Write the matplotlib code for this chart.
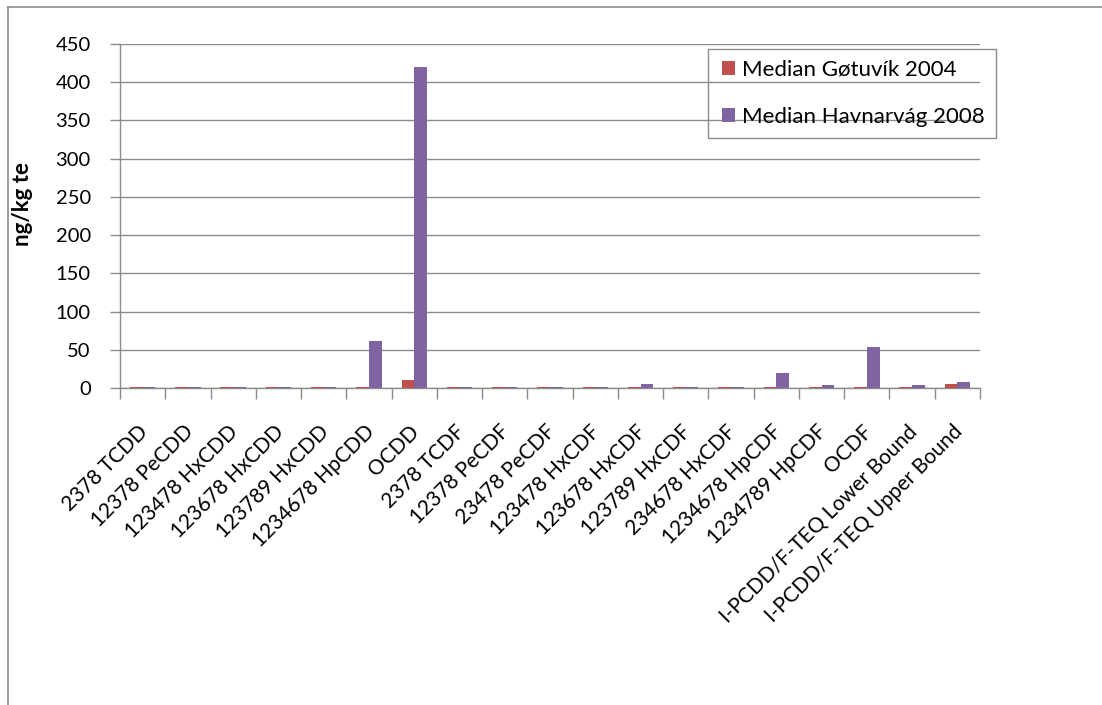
import matplotlib
matplotlib.use("Agg")
import matplotlib.pyplot as plt
import numpy as np
from matplotlib.lines import Line2D
from matplotlib.patches import Rectangle
import matplotlib.transforms as mtransforms

categories = ["2378 TCDD", "12378 PeCDD", "123478 HxCDD", "123678 HxCDD",
              "123789 HxCDD", "1234678 HpCDD", "OCDD", "2378 TCDF",
              "12378 PeCDF", "23478 PeCDF", "123478 HxCDF", "123678 HxCDF",
              "123789 HxCDF", "234678 HxCDF", "1234678 HpCDF", "1234789 HpCDF",
              "OCDF", "I-PCDD/F-TEQ Lower Bound", "I-PCDD/F-TEQ Upper Bound"]
gotuvik_2004 = [1, 1, 1, 1, 1, 1, 10.5, 1, 1, 1, 1, 1, 1, 1, 1, 1, 1, 1, 5]
havnarvag_2008 = [1, 1, 1, 1, 1, 62, 420, 1, 1, 1, 1, 5, 1, 1, 20, 3.5, 54, 3.5, 8]
series_names = ["Median Gøtuvík 2004", "Median Havnarvág 2008"]
y_ticks = [0, 50, 100, 150, 200, 250, 300, 350, 400, 450]

plt.rcParams['font.family'] = ['Lato', 'DejaVu Sans']

W, H = 1102, 705
fig = plt.figure(figsize=(W / 100, H / 100), dpi=100)
ax = fig.add_axes([120 / W, 1 - 388 / H, (980 - 120) / W, (388 - 44) / H])

n = len(categories)
x = np.arange(n)
bw = 0.28
red, purple = "#C0504D", "#8064A2"
ax.bar(x - bw / 2, gotuvik_2004, bw, color=red, label=series_names[0], zorder=3)
ax.bar(x + bw / 2, havnarvag_2008, bw, color=purple, label=series_names[1], zorder=3)

ax.set_xlim(-0.5, n - 0.5)
ax.set_ylim(0, 450)
ax.set_yticks(y_ticks)
ax.yaxis.grid(True, color="#8c8c8c", linewidth=1.0, zorder=0)
ax.set_axisbelow(True)
for s in ["top", "right"]:
    ax.spines[s].set_visible(False)
for s in ["left", "bottom"]:
    ax.spines[s].set_color("#8c8c8c")
    ax.spines[s].set_linewidth(1.0)

ax.set_xticks(x)
ax.set_xticklabels(categories, rotation=45, ha="right", va="top",
                   rotation_mode="anchor", fontsize=15)
ax.tick_params(axis="x", which="major", length=0, pad=24)
ax.set_xticks(np.arange(n + 1) - 0.5, minor=True)
ax.tick_params(axis="x", which="minor", length=8, color="#8c8c8c", width=1.0)
ax.tick_params(axis="y", length=7, color="#8c8c8c", width=1.0, labelsize=14.5, pad=14)
shift = mtransforms.ScaledTranslation(-5 / 100, 0, fig.dpi_scale_trans)
for t in ax.get_xticklabels():
    t.set_transform(t.get_transform() + shift)

ax.set_ylabel("ng/kg te", fontsize=16, fontweight="bold")
ax.yaxis.set_label_coords(-(120 - 33) / (980 - 120), 0.535)

leg = fig.legend(loc="upper left", bbox_to_anchor=(722 / W, 1 - 60 / H),
                 fontsize=16, frameon=False, borderaxespad=0, borderpad=0,
                 handlelength=0.6, handleheight=0.6, handletextpad=0.3,
                 labelspacing=1.2)
fig.add_artist(Rectangle((708 / W, 1 - 138 / H), (996 - 708) / W, (138 - 49) / H,
                         fill=False, edgecolor="#8c8c8c", linewidth=1.0,
                         transform=fig.transFigure))

# outer chart frame (top and left)
fig.add_artist(Line2D([8 / W, 1], [1 - 7 / H, 1 - 7 / H], color="#8c8c8c", linewidth=1.2))
fig.add_artist(Line2D([8 / W, 8 / W], [0, 1 - 7 / H], color="#8c8c8c", linewidth=1.2))

fig.savefig("out.png", dpi=100)
